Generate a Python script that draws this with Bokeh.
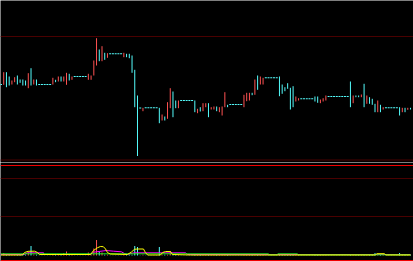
from bokeh.plotting import figure
from bokeh.layouts import column
from bokeh.models import Range1d, Span, ColumnDataSource
from bokeh.embed import file_html
from bokeh.resources import INLINE

# ---- price candles (open / close), one per session ----
opens = [11.60, 11.57, 12.83, 12.40, 11.60, 11.83, 12.50, 12.10, 12.10, 12.00,
         11.23, 13.23, 11.60, 12.10, 11.60, 11.60, 11.60, 11.60, 11.60, 11.60,
         12.07, 11.90, 12.40, 11.90, 11.57, 12.67, 12.07, 12.40, 12.40, 12.40,
         12.40, 12.40, 12.07, 12.07, 12.50, 13.50, 15.10, 13.93, 14.77, 14.27,
         14.67, 14.67, 14.67, 14.67, 14.67, 14.33, 14.67, 14.67, 14.50, 13.07,
         10.50, 9.25, 8.93, 9.27, 9.27, 9.27, 9.27, 9.27, 9.27, 8.00,
         8.40, 8.17, 9.23, 10.90, 10.00, 9.23, 10.00, 10.00, 10.00, 10.00,
         10.00, 10.00, 8.73, 9.33, 8.93, 9.33, 9.73, 9.10, 9.10, 9.40,
         8.83, 8.50, 9.33, 9.57, 9.60, 9.60, 9.60, 9.60, 9.60, 9.33,
         9.93, 10.00, 10.77, 10.57, 12.50, 11.60, 11.60, 12.27, 12.27, 12.27,
         12.27, 12.27, 12.40, 11.60, 11.33, 11.73, 11.27, 11.43, 9.90, 10.00,
         10.17, 10.17, 10.17, 10.17, 10.17, 10.40, 10.40, 9.73, 9.90, 10.00,
         10.40, 10.40, 10.40, 10.40, 10.40, 10.40, 10.40, 10.40, 11.90, 9.73,
         10.50, 10.50, 10.33, 11.67, 9.67, 10.33, 10.17, 9.67, 8.83, 9.57,
         9.10, 9.27, 9.27, 9.27, 9.27, 9.27, 9.33, 8.83, 9.27, 9.07,
         9.27]
closes = [11.60, 12.83, 11.33, 11.50, 12.00, 12.33, 11.60, 11.77, 11.50, 11.50,
          12.73, 11.50, 12.10, 11.50, 11.60, 11.60, 11.60, 11.60, 11.60, 12.27,
          11.83, 12.40, 11.90, 12.40, 12.77, 12.00, 12.40, 12.40, 12.40, 12.40,
          12.40, 12.40, 12.67, 12.50, 14.00, 16.23, 13.93, 15.43, 14.07, 14.73,
          14.67, 14.67, 14.67, 14.67, 14.67, 14.77, 14.33, 14.23, 12.77, 9.33,
          4.45, 9.25, 9.27, 9.27, 9.27, 9.27, 9.27, 9.27, 7.73, 8.60,
          8.00, 9.83, 11.23, 8.33, 9.23, 10.00, 10.00, 10.00, 10.00, 10.00,
          10.00, 8.83, 9.17, 8.90, 9.73, 9.73, 8.33, 9.33, 9.40, 8.93,
          9.33, 9.40, 10.83, 9.33, 9.60, 9.60, 9.60, 9.60, 9.60, 10.57,
          10.77, 10.77, 10.53, 12.10, 11.07, 12.40, 12.27, 12.27, 12.27, 12.27,
          12.27, 12.27, 10.43, 10.67, 10.93, 11.17, 9.10, 9.33, 10.40, 10.23,
          10.17, 10.17, 10.17, 10.17, 10.17, 9.90, 9.77, 10.10, 10.23, 10.50,
          10.40, 10.40, 10.40, 10.40, 10.40, 10.40, 10.40, 10.40, 9.33, 10.50,
          10.33, 10.33, 10.60, 9.33, 10.50, 9.67, 9.57, 8.83, 10.00, 8.83,
          9.33, 9.27, 9.27, 9.27, 9.27, 9.27, 8.50, 9.27, 8.83, 9.27,
          9.10]

# ---- volume per session ----
volumes = [20, 250, 80, 80, 80, 80, 80, 80, 80, 80,
           400, 950, 80, 80, 20, 20, 20, 20, 20, 80,
           80, 80, 80, 250, 400, 80, 80, 20, 20, 20,
           20, 20, 300, 80, 700, 1550, 400, 300, 80, 80,
           20, 20, 20, 20, 20, 80, 80, 80, 80, 950,
           850, 20, 80, 20, 20, 20, 20, 20, 850, 80,
           80, 80, 450, 80, 80, 80, 20, 20, 20, 20,
           20, 80, 80, 80, 80, 80, 80, 80, 80, 80,
           80, 80, 80, 80, 20, 20, 20, 20, 20, 80,
           80, 80, 80, 80, 80, 80, 80, 20, 20, 20,
           20, 20, 80, 80, 80, 80, 80, 80, 80, 80,
           20, 20, 20, 20, 20, 80, 80, 80, 80, 80,
           20, 20, 20, 20, 20, 20, 20, 20, 80, 80,
           80, 80, 80, 80, 80, 80, 80, 250, 80, 80,
           80, 20, 20, 20, 20, 20, 250, 80, 150, 80,
           80]

# ---- volume average lines (session position, value) ----
ma_short_x = [0, 7.9, 8.6, 10, 12.3, 13.4, 14.1, 20.3, 32.8, 33.9, 35.3, 36.4, 37.5, 38.3, 39,
              40, 46.3, 47.8, 48.9, 50, 52.2, 52.9, 53.7, 58.4, 59.2, 60.3, 62.1, 62.8, 69.4,
              137.2, 137.6, 140.5, 140.9, 150]
ma_short_y = [50, 50, 300, 420, 430, 300, 100, 100, 100, 500, 770, 900, 880, 650, 300,
              150, 100, 350, 620, 650, 650, 300, 50, 50, 300, 400, 400, 100, 50,
              50, 180, 180, 50, 50]
ma_mid_x = [0, 8.6, 9.7, 15.6, 15.7, 32.8, 33.9, 38.6, 41.2, 44.1, 45.2, 46.3, 48.5, 67.6,
            68.3, 98, 150]
ma_mid_y = [100, 100, 270, 270, 100, 100, 330, 500, 430, 370, 200, 100, 270, 270,
            100, 100, 100]
ma_long_x = [0, 98, 98.1, 101.3, 101.4, 108.6, 108.7, 150]
ma_long_y = [170, 170, 70, 70, 170, 170, 70, 70]

# ---- guide levels ----
price_levels = [16.4, 4.05]
sub_levels_bright = [9000, -500]
sub_levels_dark = [7700, 3900]

BG = "#000000"
UP = "#ff5252"
DOWN = "#54fcfc"
DARK_RED = "#4a0000"
BRIGHT_RED = "#f00000"

n = len(opens)
xs = list(range(n))
x_range = Range1d(-0.18, 151.1)

up_x, up_o, up_c = [], [], []
dn_x, dn_o, dn_c = [], [], []
dj_x, dj_y = [], []
for i in xs:
    o, c = opens[i], closes[i]
    if c > o:
        up_x.append(i); up_o.append(o); up_c.append(c)
    elif c < o:
        dn_x.append(i); dn_o.append(o); dn_c.append(c)
    else:
        dj_x.append(i); dj_y.append(o)


def base_fig(h, yr):
    f = figure(width=413, height=h, x_range=x_range, y_range=yr,
               output_backend="svg", toolbar_location=None,
               background_fill_color=BG, border_fill_color=BG,
               min_border=0, min_border_left=0, min_border_right=0,
               min_border_top=0, min_border_bottom=0,
               x_axis_location=None, y_axis_location=None)
    f.grid.visible = False
    f.outline_line_color = None
    return f


p1 = base_fig(162, Range1d(3.8, 20.0))
for lv in price_levels:
    p1.add_layout(Span(location=lv, dimension="width", line_color=DARK_RED, line_width=1))
p1.segment(x0=up_x, y0=up_o, x1=up_x, y1=up_c, line_color=UP, line_width=1)
p1.segment(x0=dn_x, y0=dn_o, x1=dn_x, y1=dn_c, line_color=DOWN, line_width=1)
p1.rect(x=dj_x, y=dj_y, width=2, height=1, width_units="screen", height_units="screen",
        fill_color=DOWN, line_color=None)

p2 = base_fig(99, Range1d(-600, 9300))
for lv in sub_levels_bright:
    p2.add_layout(Span(location=lv, dimension="width", line_color=BRIGHT_RED, line_width=1))
for lv in sub_levels_dark:
    p2.add_layout(Span(location=lv, dimension="width", line_color=DARK_RED, line_width=1))

vcol = [UP if closes[i] > opens[i] else DOWN for i in xs]
src = ColumnDataSource(dict(x=xs, zero=[0] * n, v=volumes, c=vcol))
p2.segment(x0="x", y0="zero", x1="x", y1="v", line_color="c", line_width=1, source=src)
p2.line(ma_mid_x, ma_mid_y, line_color="#ff00ff", line_width=1)
p2.line(ma_long_x, ma_long_y, line_color="#22ee22", line_width=1)
p2.line(ma_short_x, ma_short_y, line_color="#ffff00", line_width=1)

layout = column(p1, p2, spacing=0)
open("out.html", "w").write(file_html(layout, INLINE))
